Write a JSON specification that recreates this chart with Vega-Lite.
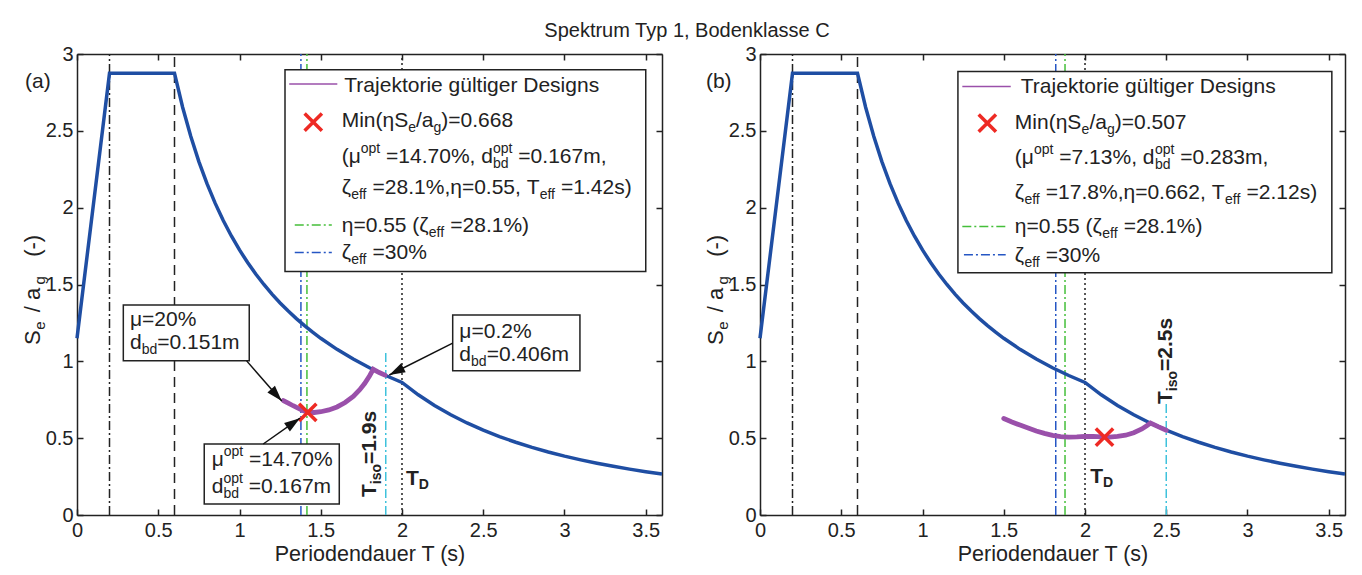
{
"$schema": "https://vega.github.io/schema/vega-lite/v6.json",
"background": "white",
"padding": {"left": 21, "top": 21, "right": 5, "bottom": 5},
"title": {"text": "Spektrum Typ 1, Bodenklasse C", "anchor": "middle", "font": "Liberation Sans", "fontSize": 20, "fontWeight": "normal", "color": "#222", "offset": 3},
"spacing": 98,
"bounds": "flush",
"config": {"view": {"stroke": null}, "font": "Liberation Sans"},
"datasets": {
"spec": [
{"x":0,"y":1.15},{"x":0.2,"y":2.875},{"x":0.6,"y":2.875},{"x":0.65,"y":2.6538},{"x":0.7,"y":2.4643},{"x":0.75,"y":2.3},{"x":0.8,"y":2.1563},{"x":0.85,"y":2.0294},{"x":0.9,"y":1.9167},{"x":0.95,"y":1.8158},{"x":1.0,"y":1.725},{"x":1.05,"y":1.6429},{"x":1.1,"y":1.5682},{"x":1.15,"y":1.5},{"x":1.2,"y":1.4375},{"x":1.25,"y":1.38},{"x":1.3,"y":1.3269},{"x":1.35,"y":1.2778},{"x":1.4,"y":1.2321},{"x":1.45,"y":1.1897},{"x":1.5,"y":1.15},{"x":1.6,"y":1.0781},{"x":1.7,"y":1.0147},{"x":1.8,"y":0.9583},{"x":1.9,"y":0.9079},{"x":2.0,"y":0.8625},{"x":2.1,"y":0.7823},{"x":2.2,"y":0.7128},{"x":2.3,"y":0.6522},{"x":2.4,"y":0.599},{"x":2.5,"y":0.552},{"x":2.6,"y":0.5104},{"x":2.7,"y":0.4733},{"x":2.8,"y":0.4401},{"x":2.9,"y":0.4102},{"x":3.0,"y":0.3833},{"x":3.1,"y":0.359},{"x":3.2,"y":0.3369},{"x":3.3,"y":0.3168},{"x":3.4,"y":0.2984},{"x":3.5,"y":0.2816},{"x":3.6,"y":0.2662}
],
"vl": [
{"p":"a","k":"tb","x":0.2,"y":0,"y2":3},{"p":"a","k":"tc","x":0.6,"y":0,"y2":3},{"p":"a","k":"td","x":2.0,"y":0,"y2":3},{"p":"a","k":"iso","x":1.9,"y":0,"y2":1.06},{"p":"a","k":"z30","x":1.378,"y":0,"y2":3},{"p":"a","k":"eta","x":1.415,"y":0,"y2":3},
{"p":"b","k":"tb","x":0.2,"y":0,"y2":3},{"p":"b","k":"tc","x":0.6,"y":0,"y2":3},{"p":"b","k":"td","x":2.0,"y":0,"y2":3},{"p":"b","k":"iso","x":2.5,"y":0,"y2":0.74},{"p":"b","k":"z30","x":1.82,"y":0,"y2":3},{"p":"b","k":"eta","x":1.877,"y":0,"y2":3}
],
"traj": [
{"p":"a","x":1.27,"y":0.745},{"p":"a","x":1.30,"y":0.728},{"p":"a","x":1.33,"y":0.711},{"p":"a","x":1.36,"y":0.695},{"p":"a","x":1.39,"y":0.68},{"p":"a","x":1.42,"y":0.668},{"p":"a","x":1.46,"y":0.667},{"p":"a","x":1.50,"y":0.672},{"p":"a","x":1.55,"y":0.684},{"p":"a","x":1.60,"y":0.703},{"p":"a","x":1.65,"y":0.732},{"p":"a","x":1.70,"y":0.772},{"p":"a","x":1.74,"y":0.815},{"p":"a","x":1.77,"y":0.855},{"p":"a","x":1.80,"y":0.905},{"p":"a","x":1.823,"y":0.948},{"p":"a","x":1.86,"y":0.927},{"p":"a","x":1.895,"y":0.91},
{"p":"b","x":1.50,"y":0.628},{"p":"b","x":1.55,"y":0.605},{"p":"b","x":1.60,"y":0.585},{"p":"b","x":1.65,"y":0.566},{"p":"b","x":1.70,"y":0.547},{"p":"b","x":1.75,"y":0.531},{"p":"b","x":1.80,"y":0.518},{"p":"b","x":1.85,"y":0.51},{"p":"b","x":1.90,"y":0.507},{"p":"b","x":1.95,"y":0.508},{"p":"b","x":2.00,"y":0.512},{"p":"b","x":2.05,"y":0.511},{"p":"b","x":2.10,"y":0.508},{"p":"b","x":2.15,"y":0.507},{"p":"b","x":2.20,"y":0.511},{"p":"b","x":2.25,"y":0.519},{"p":"b","x":2.30,"y":0.535},{"p":"b","x":2.35,"y":0.56},{"p":"b","x":2.38,"y":0.581},{"p":"b","x":2.403,"y":0.598},{"p":"b","x":2.45,"y":0.575},{"p":"b","x":2.50,"y":0.552}
],
"xm": [
{"p":"a","x":1.42,"y":0.668},{"p":"a","x":1.454,"y":2.557},
{"p":"b","x":2.12,"y":0.507},{"p":"b","x":1.399,"y":2.55}
],
"box": [
{"p":"a","x":1.28,"x2":3.5,"y":1.584,"y2":2.897},
{"p":"a","x":0.285,"x2":1.06,"y":1.003,"y2":1.367},
{"p":"a","x":0.783,"x2":1.614,"y":0.0716,"y2":0.462},
{"p":"a","x":2.312,"x2":3.095,"y":0.939,"y2":1.302},
{"p":"b","x":1.218,"x2":3.519,"y":1.577,"y2":2.886}
],
"seg": [
{"p":"a","k":"traj","x":1.306,"x2":1.602,"y":2.804},{"p":"a","k":"eta","x":1.34,"x2":1.568,"y":1.888},{"p":"a","k":"z30","x":1.34,"x2":1.568,"y":1.708},
{"p":"b","k":"traj","x":1.245,"x2":1.543,"y":2.788},{"p":"b","k":"eta","x":1.245,"x2":1.512,"y":1.877},{"p":"b","k":"z30","x":1.255,"x2":1.512,"y":1.693}
],
"arr": [
{"p":"a","x":1.044,"y":1.003,"x2":1.26,"y2":0.742,"ang":138},
{"p":"a","x":1.146,"y":0.462,"x2":1.372,"y2":0.63,"ang":55},
{"p":"a","x":2.312,"y":1.118,"x2":1.922,"y2":0.911,"ang":243}
],
"txt": [
{"p":"a","k":"n","t":"(a)","x":-0.32,"y":2.821},
{"p":"a","k":"n","t":"Trajektorie gültiger Designs","x":1.645,"y":2.793},
{"p":"a","k":"n","t":"Min(ηS","x":1.629,"y":2.561},
{"p":"a","k":"sub","t":"e","x":2.038,"y":2.561},
{"p":"a","k":"n","t":"/a","x":2.086,"y":2.561},
{"p":"a","k":"sub","t":"g","x":2.194,"y":2.561},
{"p":"a","k":"n","t":")=0.668","x":2.242,"y":2.561},
{"p":"a","k":"n","t":"(μ","x":1.629,"y":2.329},
{"p":"a","k":"sup","t":"opt","x":1.746,"y":2.329},
{"p":"a","k":"n","t":"=14.70%, d","x":1.902,"y":2.329},
{"p":"a","k":"sup","t":"opt","x":2.56,"y":2.329},
{"p":"a","k":"sub","t":"bd","x":2.56,"y":2.329},
{"p":"a","k":"n","t":"=0.167m,","x":2.716,"y":2.329},
{"p":"a","k":"n","t":"ζ","x":1.629,"y":2.127},
{"p":"a","k":"sub","t":"eff","x":1.687,"y":2.127},
{"p":"a","k":"n","t":"=28.1%,η=0.55, T","x":1.819,"y":2.127},
{"p":"a","k":"sub","t":"eff","x":2.847,"y":2.127},
{"p":"a","k":"n","t":"=1.42s)","x":2.979,"y":2.127},
{"p":"a","k":"n","t":"η=0.55 (ζ","x":1.629,"y":1.883},
{"p":"a","k":"sub","t":"eff","x":2.165,"y":1.883},
{"p":"a","k":"n","t":"=28.1%)","x":2.297,"y":1.883},
{"p":"a","k":"n","t":"ζ","x":1.629,"y":1.708},
{"p":"a","k":"sub","t":"eff","x":1.687,"y":1.708},
{"p":"a","k":"n","t":"=30%","x":1.819,"y":1.708},
{"p":"a","k":"n","t":"μ=20%","x":0.326,"y":1.27},
{"p":"a","k":"n","t":"d","x":0.326,"y":1.118},
{"p":"a","k":"sub","t":"bd","x":0.398,"y":1.118},
{"p":"a","k":"n","t":"=0.151m","x":0.494,"y":1.118},
{"p":"a","k":"n","t":"μ","x":0.829,"y":0.358},
{"p":"a","k":"sup","t":"opt","x":0.903,"y":0.358},
{"p":"a","k":"n","t":"=14.70%","x":1.059,"y":0.358},
{"p":"a","k":"n","t":"d","x":0.829,"y":0.184},
{"p":"a","k":"sup","t":"opt","x":0.901,"y":0.184},
{"p":"a","k":"sub","t":"bd","x":0.901,"y":0.184},
{"p":"a","k":"n","t":"=0.167m","x":1.057,"y":0.184},
{"p":"a","k":"n","t":"μ=0.2%","x":2.353,"y":1.193},
{"p":"a","k":"n","t":"d","x":2.353,"y":1.042},
{"p":"a","k":"sub","t":"bd","x":2.425,"y":1.042},
{"p":"a","k":"n","t":"=0.406m","x":2.521,"y":1.042},
{"p":"a","k":"b","t":"T","x":2.025,"y":0.234},
{"p":"a","k":"bsub","t":"D","x":2.103,"y":0.234},
{"p":"a","k":"rb","t":"T","x":1.803,"y":0.117},
{"p":"a","k":"rbsub","t":"iso","x":1.803,"y":0.2005},
{"p":"a","k":"rb","t":"=1.9s","x":1.803,"y":0.332},
{"p":"a","k":"r","t":"S","x":-0.271,"y":1.107},
{"p":"a","k":"rsub","t":"e","x":-0.271,"y":1.205},
{"p":"a","k":"r","t":"/ a","x":-0.271,"y":1.32},
{"p":"a","k":"rsub","t":"g","x":-0.271,"y":1.5},
{"p":"a","k":"r","t":"(-)","x":-0.271,"y":1.68},
{"p":"b","k":"n","t":"(b)","x":-0.333,"y":2.821},
{"p":"b","k":"n","t":"Trajektorie gültiger Designs","x":1.605,"y":2.788},
{"p":"b","k":"n","t":"Min(ηS","x":1.568,"y":2.55},
{"p":"b","k":"sub","t":"e","x":1.978,"y":2.55},
{"p":"b","k":"n","t":"/a","x":2.027,"y":2.55},
{"p":"b","k":"sub","t":"g","x":2.135,"y":2.55},
{"p":"b","k":"n","t":")=0.507","x":2.183,"y":2.55},
{"p":"b","k":"n","t":"(μ","x":1.568,"y":2.322},
{"p":"b","k":"sup","t":"opt","x":1.686,"y":2.322},
{"p":"b","k":"n","t":"=7.13%, d","x":1.842,"y":2.322},
{"p":"b","k":"sup","t":"opt","x":2.43,"y":2.322},
{"p":"b","k":"sub","t":"bd","x":2.43,"y":2.322},
{"p":"b","k":"n","t":"=0.283m,","x":2.586,"y":2.322},
{"p":"b","k":"n","t":"ζ","x":1.568,"y":2.094},
{"p":"b","k":"sub","t":"eff","x":1.627,"y":2.094},
{"p":"b","k":"n","t":"=17.8%,η=0.662, T","x":1.759,"y":2.094},
{"p":"b","k":"sub","t":"eff","x":2.862,"y":2.094},
{"p":"b","k":"n","t":"=2.12s)","x":2.994,"y":2.094},
{"p":"b","k":"n","t":"η=0.55 (ζ","x":1.568,"y":1.877},
{"p":"b","k":"sub","t":"eff","x":2.106,"y":1.877},
{"p":"b","k":"n","t":"=28.1%)","x":2.238,"y":1.877},
{"p":"b","k":"n","t":"ζ","x":1.568,"y":1.686},
{"p":"b","k":"sub","t":"eff","x":1.627,"y":1.686},
{"p":"b","k":"n","t":"=30%","x":1.759,"y":1.686},
{"p":"b","k":"b","t":"T","x":2.033,"y":0.249},
{"p":"b","k":"bsub","t":"D","x":2.111,"y":0.249},
{"p":"b","k":"rb","t":"T","x":2.5,"y":0.723},
{"p":"b","k":"rbsub","t":"iso","x":2.5,"y":0.806},
{"p":"b","k":"rb","t":"=2.5s","x":2.5,"y":0.9375},
{"p":"b","k":"r","t":"S","x":-0.272,"y":1.107},
{"p":"b","k":"rsub","t":"e","x":-0.272,"y":1.205},
{"p":"b","k":"r","t":"/ a","x":-0.272,"y":1.32},
{"p":"b","k":"rsub","t":"g","x":-0.272,"y":1.5},
{"p":"b","k":"r","t":"(-)","x":-0.272,"y":1.68}
]
},
"hconcat": [
{
"width": 585, "height": 461,
"encoding": {
 "x": {"field": "x", "type": "quantitative", "scale": {"domain": [0, 3.6], "nice": false, "zero": false}, "axis": null},
 "y": {"field": "y", "type": "quantitative", "scale": {"domain": [0, 3], "nice": false, "zero": false}, "axis": null}
},
"layer": [
 {"data": {"name": "vl"}, "transform": [{"filter": "datum.p === 'a'"}], "mark": {"type": "rule"},
  "encoding": {
   "x": {"field": "x", "type": "quantitative", "scale": {"domain": [0, 3.6], "nice": false, "zero": false}, "axis": {"orient": "top", "values": [0,0.5,1,1.5,2,2.5,3,3.5], "grid": false, "labels": false, "title": null, "tickSize": -6, "tickWidth": 1.5, "tickColor": "#222", "domainColor": "#222", "domainWidth": 1.5}},
   "y": {"field": "y", "type": "quantitative", "scale": {"domain": [0, 3], "nice": false, "zero": false}, "axis": {"orient": "right", "values": [0,0.5,1,1.5,2,2.5,3], "grid": false, "labels": false, "title": null, "tickSize": -6, "tickWidth": 1.5, "tickColor": "#222", "domainColor": "#222", "domainWidth": 1.5}},
   "y2": {"field": "y2"},
   "color": {"field": "k", "type": "nominal", "scale": {"domain": ["tb","tc","td","iso","z30","eta","traj"], "range": ["#222222","#222222","#222222","#3fc2dc","#2556c4","#45bf3a","#9a50aa"]}, "legend": null},
   "strokeDash": {"field": "k", "type": "nominal", "scale": {"domain": ["tb","tc","td","iso","z30","eta","traj"], "range": [[9,3,2,3],[10,6],[2,3],[9,3,2,3],[9,3,2,3],[9,3,2,3],[1,0]]}, "legend": null},
   "strokeWidth": {"field": "k", "type": "nominal", "scale": {"domain": ["tb","tc","td","iso","z30","eta","traj"], "range": [1.5,1.5,1.3,1.3,1.6,1.4,4.5]}, "legend": null}
  }},
 {"data": {"name": "spec"}, "mark": {"type": "line", "color": "#1f4ea3", "strokeWidth": 3.5},
  "encoding": {
   "x": {"field": "x", "type": "quantitative", "scale": {"domain": [0, 3.6], "nice": false, "zero": false},
    "axis": {"orient": "bottom", "values": [0,0.5,1,1.5,2,2.5,3,3.5], "format": "~g", "grid": false, "tickSize": -6, "tickWidth": 1.5, "tickColor": "#222", "domainColor": "#222", "domainWidth": 1.5, "labelFont": "Liberation Sans", "labelFontSize": 20, "labelFontWeight": "normal", "labelColor": "#222", "labelPadding": 11, "labelFlush": false, "labelOverlap": false, "title": "Periodendauer T (s)", "titleFont": "Liberation Sans", "titleFontSize": 21.5, "titleFontWeight": "normal", "titleColor": "#222", "titlePadding": 3}},
   "y": {"field": "y", "type": "quantitative", "scale": {"domain": [0, 3], "nice": false, "zero": false},
    "axis": {"orient": "left", "values": [0,0.5,1,1.5,2,2.5,3], "format": "~g", "grid": false, "tickSize": -6, "tickWidth": 1.5, "tickColor": "#222", "domainColor": "#222", "domainWidth": 1.5, "labelFont": "Liberation Sans", "labelFontSize": 20, "labelFontWeight": "normal", "labelColor": "#222", "labelPadding": 10, "labelFlush": false, "labelOverlap": false, "title": null}}
  }},
 {"data": {"name": "traj"}, "transform": [{"filter": "datum.p === 'a'"}], "mark": {"type": "line", "color": "#9a50aa", "strokeWidth": 4.8, "strokeCap": "round"}},
 {"data": {"name": "box"}, "transform": [{"filter": "datum.p === 'a'"}], "mark": {"type": "rect", "fill": "white", "stroke": "#222", "strokeWidth": 1.5},
  "encoding": {"x2": {"field": "x2"}, "y2": {"field": "y2"}}},
 {"data": {"name": "seg"}, "transform": [{"filter": "datum.p === 'a'"}], "mark": {"type": "rule"},
  "encoding": {"x2": {"field": "x2"},
   "color": {"field": "k", "type": "nominal", "legend": null},
   "strokeDash": {"field": "k", "type": "nominal", "legend": null},
   "strokeWidth": {"field": "k", "type": "nominal", "legend": null}}},
 {"data": {"name": "xm"}, "transform": [{"filter": "datum.p === 'a'"}], "mark": {"type": "point", "shape": "M-1,-1L1,1M-1,1L1,-1", "filled": false, "stroke": "#ee2a24", "strokeWidth": 3.5, "size": 300, "opacity": 1}},
 {"data": {"name": "arr"}, "transform": [{"filter": "datum.p === 'a'"}], "mark": {"type": "rule", "color": "#111", "strokeWidth": 1.5},
  "encoding": {"x2": {"field": "x2"}, "y2": {"field": "y2"}}},
 {"data": {"name": "arr"}, "transform": [{"filter": "datum.p === 'a'"}], "mark": {"type": "point", "shape": "M0,0L-0.32,1L0.32,1Z", "filled": true, "color": "#111", "size": 1000, "opacity": 1},
  "encoding": {"x": {"field": "x2", "type": "quantitative", "axis": null}, "y": {"field": "y2", "type": "quantitative", "axis": null}, "angle": {"field": "ang", "type": "quantitative", "scale": null}}},
 {"data": {"name": "txt"}, "transform": [{"filter": "datum.p === 'a' && datum.k === 'n'"}], "mark": {"type": "text", "align": "left", "baseline": "middle", "font": "Liberation Sans", "fontSize": 21, "color": "#222"}, "encoding": {"text": {"field": "t"}}},
 {"data": {"name": "txt"}, "transform": [{"filter": "datum.p === 'a' && datum.k === 'sub'"}], "mark": {"type": "text", "align": "left", "baseline": "middle", "font": "Liberation Sans", "fontSize": 14, "dy": 7, "color": "#222"}, "encoding": {"text": {"field": "t"}}},
 {"data": {"name": "txt"}, "transform": [{"filter": "datum.p === 'a' && datum.k === 'sup'"}], "mark": {"type": "text", "align": "left", "baseline": "middle", "font": "Liberation Sans", "fontSize": 14, "dy": -8, "color": "#222"}, "encoding": {"text": {"field": "t"}}},
 {"data": {"name": "txt"}, "transform": [{"filter": "datum.p === 'a' && datum.k === 'b'"}], "mark": {"type": "text", "align": "left", "baseline": "middle", "font": "Liberation Sans", "fontSize": 21, "fontWeight": "bold", "color": "#222"}, "encoding": {"text": {"field": "t"}}},
 {"data": {"name": "txt"}, "transform": [{"filter": "datum.p === 'a' && datum.k === 'bsub'"}], "mark": {"type": "text", "align": "left", "baseline": "middle", "font": "Liberation Sans", "fontSize": 14, "fontWeight": "bold", "dy": 6, "color": "#222"}, "encoding": {"text": {"field": "t"}}},
 {"data": {"name": "txt"}, "transform": [{"filter": "datum.p === 'a' && datum.k === 'rb'"}], "mark": {"type": "text", "align": "left", "baseline": "middle", "angle": 270, "font": "Liberation Sans", "fontSize": 21, "fontWeight": "bold", "color": "#222"}, "encoding": {"text": {"field": "t"}}},
 {"data": {"name": "txt"}, "transform": [{"filter": "datum.p === 'a' && datum.k === 'rbsub'"}], "mark": {"type": "text", "align": "left", "baseline": "middle", "angle": 270, "font": "Liberation Sans", "fontSize": 14, "fontWeight": "bold", "dy": 7, "color": "#222"}, "encoding": {"text": {"field": "t"}}},
 {"data": {"name": "txt"}, "transform": [{"filter": "datum.p === 'a' && datum.k === 'r'"}], "mark": {"type": "text", "align": "left", "baseline": "middle", "angle": 270, "font": "Liberation Sans", "fontSize": 22, "color": "#222"}, "encoding": {"text": {"field": "t"}}},
 {"data": {"name": "txt"}, "transform": [{"filter": "datum.p === 'a' && datum.k === 'rsub'"}], "mark": {"type": "text", "align": "left", "baseline": "middle", "angle": 270, "font": "Liberation Sans", "fontSize": 15, "dy": 7, "color": "#222"}, "encoding": {"text": {"field": "t"}}}
]
},
{
"width": 585, "height": 461,
"encoding": {
 "x": {"field": "x", "type": "quantitative", "scale": {"domain": [0, 3.6], "nice": false, "zero": false}, "axis": null},
 "y": {"field": "y", "type": "quantitative", "scale": {"domain": [0, 3], "nice": false, "zero": false}, "axis": null}
},
"layer": [
 {"data": {"name": "vl"}, "transform": [{"filter": "datum.p === 'b'"}], "mark": {"type": "rule"},
  "encoding": {
   "x": {"field": "x", "type": "quantitative", "scale": {"domain": [0, 3.6], "nice": false, "zero": false}, "axis": {"orient": "top", "values": [0,0.5,1,1.5,2,2.5,3,3.5], "grid": false, "labels": false, "title": null, "tickSize": -6, "tickWidth": 1.5, "tickColor": "#222", "domainColor": "#222", "domainWidth": 1.5}},
   "y": {"field": "y", "type": "quantitative", "scale": {"domain": [0, 3], "nice": false, "zero": false}, "axis": {"orient": "right", "values": [0,0.5,1,1.5,2,2.5,3], "grid": false, "labels": false, "title": null, "tickSize": -6, "tickWidth": 1.5, "tickColor": "#222", "domainColor": "#222", "domainWidth": 1.5}},
   "y2": {"field": "y2"},
   "color": {"field": "k", "type": "nominal", "scale": {"domain": ["tb","tc","td","iso","z30","eta","traj"], "range": ["#222222","#222222","#222222","#3fc2dc","#2556c4","#45bf3a","#9a50aa"]}, "legend": null},
   "strokeDash": {"field": "k", "type": "nominal", "scale": {"domain": ["tb","tc","td","iso","z30","eta","traj"], "range": [[9,3,2,3],[10,6],[2,3],[9,3,2,3],[9,3,2,3],[9,3,2,3],[1,0]]}, "legend": null},
   "strokeWidth": {"field": "k", "type": "nominal", "scale": {"domain": ["tb","tc","td","iso","z30","eta","traj"], "range": [1.5,1.5,1.3,1.3,1.6,1.4,4.5]}, "legend": null}
  }},
 {"data": {"name": "spec"}, "mark": {"type": "line", "color": "#1f4ea3", "strokeWidth": 3.5},
  "encoding": {
   "x": {"field": "x", "type": "quantitative", "scale": {"domain": [0, 3.6], "nice": false, "zero": false},
    "axis": {"orient": "bottom", "values": [0,0.5,1,1.5,2,2.5,3,3.5], "format": "~g", "grid": false, "tickSize": -6, "tickWidth": 1.5, "tickColor": "#222", "domainColor": "#222", "domainWidth": 1.5, "labelFont": "Liberation Sans", "labelFontSize": 20, "labelFontWeight": "normal", "labelColor": "#222", "labelPadding": 11, "labelFlush": false, "labelOverlap": false, "title": "Periodendauer T (s)", "titleFont": "Liberation Sans", "titleFontSize": 21.5, "titleFontWeight": "normal", "titleColor": "#222", "titlePadding": 3}},
   "y": {"field": "y", "type": "quantitative", "scale": {"domain": [0, 3], "nice": false, "zero": false},
    "axis": {"orient": "left", "values": [0,0.5,1,1.5,2,2.5,3], "format": "~g", "grid": false, "tickSize": -6, "tickWidth": 1.5, "tickColor": "#222", "domainColor": "#222", "domainWidth": 1.5, "labelFont": "Liberation Sans", "labelFontSize": 20, "labelFontWeight": "normal", "labelColor": "#222", "labelPadding": 10, "labelFlush": false, "labelOverlap": false, "title": null}}
  }},
 {"data": {"name": "traj"}, "transform": [{"filter": "datum.p === 'b'"}], "mark": {"type": "line", "color": "#9a50aa", "strokeWidth": 4.8, "strokeCap": "round"}},
 {"data": {"name": "box"}, "transform": [{"filter": "datum.p === 'b'"}], "mark": {"type": "rect", "fill": "white", "stroke": "#222", "strokeWidth": 1.5},
  "encoding": {"x2": {"field": "x2"}, "y2": {"field": "y2"}}},
 {"data": {"name": "seg"}, "transform": [{"filter": "datum.p === 'b'"}], "mark": {"type": "rule"},
  "encoding": {"x2": {"field": "x2"},
   "color": {"field": "k", "type": "nominal", "legend": null},
   "strokeDash": {"field": "k", "type": "nominal", "legend": null},
   "strokeWidth": {"field": "k", "type": "nominal", "legend": null}}},
 {"data": {"name": "xm"}, "transform": [{"filter": "datum.p === 'b'"}], "mark": {"type": "point", "shape": "M-1,-1L1,1M-1,1L1,-1", "filled": false, "stroke": "#ee2a24", "strokeWidth": 3.5, "size": 300, "opacity": 1}},
 {"data": {"name": "txt"}, "transform": [{"filter": "datum.p === 'b' && datum.k === 'n'"}], "mark": {"type": "text", "align": "left", "baseline": "middle", "font": "Liberation Sans", "fontSize": 21, "color": "#222"}, "encoding": {"text": {"field": "t"}}},
 {"data": {"name": "txt"}, "transform": [{"filter": "datum.p === 'b' && datum.k === 'sub'"}], "mark": {"type": "text", "align": "left", "baseline": "middle", "font": "Liberation Sans", "fontSize": 14, "dy": 7, "color": "#222"}, "encoding": {"text": {"field": "t"}}},
 {"data": {"name": "txt"}, "transform": [{"filter": "datum.p === 'b' && datum.k === 'sup'"}], "mark": {"type": "text", "align": "left", "baseline": "middle", "font": "Liberation Sans", "fontSize": 14, "dy": -8, "color": "#222"}, "encoding": {"text": {"field": "t"}}},
 {"data": {"name": "txt"}, "transform": [{"filter": "datum.p === 'b' && datum.k === 'b'"}], "mark": {"type": "text", "align": "left", "baseline": "middle", "font": "Liberation Sans", "fontSize": 21, "fontWeight": "bold", "color": "#222"}, "encoding": {"text": {"field": "t"}}},
 {"data": {"name": "txt"}, "transform": [{"filter": "datum.p === 'b' && datum.k === 'bsub'"}], "mark": {"type": "text", "align": "left", "baseline": "middle", "font": "Liberation Sans", "fontSize": 14, "fontWeight": "bold", "dy": 6, "color": "#222"}, "encoding": {"text": {"field": "t"}}},
 {"data": {"name": "txt"}, "transform": [{"filter": "datum.p === 'b' && datum.k === 'rb'"}], "mark": {"type": "text", "align": "left", "baseline": "middle", "angle": 270, "font": "Liberation Sans", "fontSize": 21, "fontWeight": "bold", "color": "#222"}, "encoding": {"text": {"field": "t"}}},
 {"data": {"name": "txt"}, "transform": [{"filter": "datum.p === 'b' && datum.k === 'rbsub'"}], "mark": {"type": "text", "align": "left", "baseline": "middle", "angle": 270, "font": "Liberation Sans", "fontSize": 14, "fontWeight": "bold", "dy": 7, "color": "#222"}, "encoding": {"text": {"field": "t"}}},
 {"data": {"name": "txt"}, "transform": [{"filter": "datum.p === 'b' && datum.k === 'r'"}], "mark": {"type": "text", "align": "left", "baseline": "middle", "angle": 270, "font": "Liberation Sans", "fontSize": 22, "color": "#222"}, "encoding": {"text": {"field": "t"}}},
 {"data": {"name": "txt"}, "transform": [{"filter": "datum.p === 'b' && datum.k === 'rsub'"}], "mark": {"type": "text", "align": "left", "baseline": "middle", "angle": 270, "font": "Liberation Sans", "fontSize": 15, "dy": 7, "color": "#222"}, "encoding": {"text": {"field": "t"}}}
]
}
]
}
